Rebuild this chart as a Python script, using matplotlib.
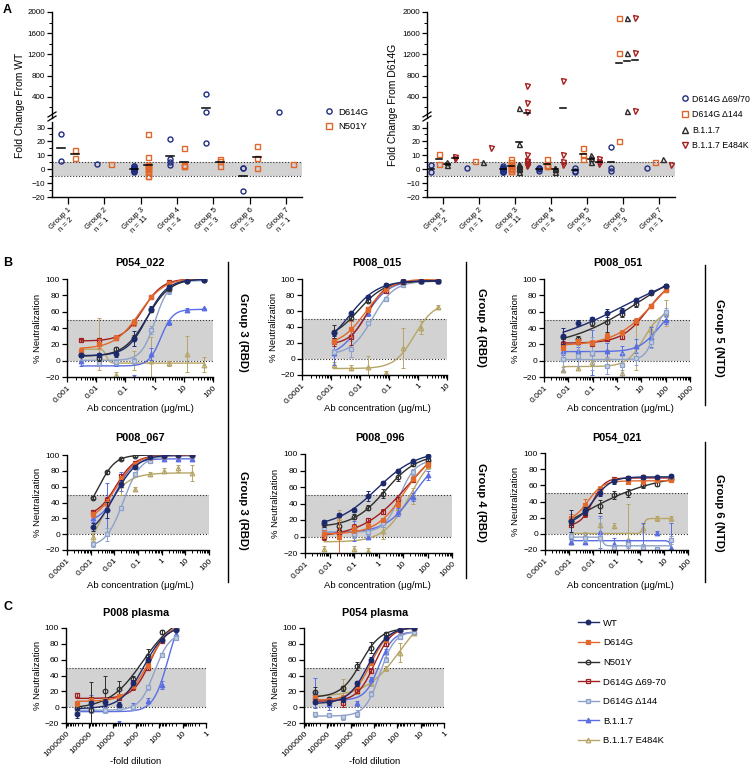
import numpy as np
import matplotlib
matplotlib.use('Agg')
import matplotlib.pyplot as plt
from matplotlib.lines import Line2D
from matplotlib.ticker import FixedLocator, LogLocator, NullFormatter

plt.rcParams['font.family'] = ['Liberation Sans', 'DejaVu Sans']

# ---------------- DATA ----------------
group_labels = ['Group 1\nn = 2', 'Group 2\nn = 1', 'Group 3\nn = 11', 'Group 4\nn = 4',
                'Group 5\nn = 3', 'Group 6\nn = 3', 'Group 7\nn = 1']

# Panel A left: fold change from WT
A1_D614G = [[25, 6], [4], [2, 1, 0, -1, -2, 1, 0, 2, -1, 0, 1], [22, 7, 5, 3],
            [450, 110, 19], [1, 1, -16], [110]]
A1_N501Y = [[14, 8], [4], [25, 9, 3, 2, 0, -1, -2, -5, -5, 1, 3], [15, 3, 2, 2],
            [6, 7, 2], [17, 8, 1], [4]]
# Panel A right: fold change from D614G
A2_D69 = [[3, -2], [1], [2, 1, 0, -1, -2, 0, 1, -1, 0, 1, -2], [1, -1, 0, 1],
          [1, -1, -2], [16, 1, -1], [1]]
A2_D144 = [[11, 4], [6], [7, 5, 3, 1, -1, 2, 0, 1, 3, -1, 4], [7, 3, 2, 2],
           [15, 10, 7], [1880, 1220, 20], [5]]
A2_B117 = [[5, 3], [5], [180, 18, 4, 3, 2, 1, 0, -2, 1, 2, 3], [1, 0, -2, 1],
           [10, 8, 5], [1880, 1220, 130], [7]]
A2_E484K = [[9, 7], [15], [600, 280, 120, 10, 6, 4, 3, 2, 5, 4, 3], [700, 10, 5, 3],
            [7, 5, 4], [1890, 1230, 140], [3]]

variants = ['WT', 'D614G', 'N501Y', 'D614G Δ69-70', 'D614G Δ144', 'B.1.1.7', 'B.1.1.7 E484K']

# Panel B / C : % neutralization, series in the order of `variants`
conc_P054_022 = [0.00305, 0.0122, 0.0488, 0.195, 0.781, 3.125, 12.5, 50]
P054_022 = [[7, 7, 8, 27, 63, 90, 98, 99],
            [12, 21, 28, 47, 78, 95, 99, 100],
            [7, 3, 14, 28, 62, 88, 98, 99],
            [25, 25, 28, 47, 78, 96, 99, 100],
            [10, -3, -2, 0, 38, 85, 97, 99],
            [-1, -3, -3, -20, 8, 47, 62, 64],
            [8, 20, -17, 0, -1, -3, 8, -5]]
P054_022_err = [[3, 3, 3, 9, 4, 2, 1, 1], [3, 5, 3, 4, 3, 1, 1, 1], [3, 3, 3, 3, 3, 2, 1, 1],
                [2, 3, 3, 3, 3, 1, 1, 1], [3, 3, 3, 3, 5, 3, 1, 1], [5, 3, 3, 3, 7, 3, 2, 1],
                [8, 32, 3, 12, 30, 3, 22, 9]]

conc_P008_015 = [0.00122, 0.00488, 0.0195, 0.078, 0.3125, 1.25, 5]
P008_015 = [[32, 57, 78, 93, 97, 97, 97],
            [22, 38, 62, 88, 97, 99, 99],
            [34, 51, 73, 90, 96, 97, 97],
            [21, 27, 62, 85, 96, 98, 98],
            [9, 13, 45, 75, 92, 97, 97],
            [8, 30, 57, 87, 96, 97, 97],
            [-7, -11, -10, -18, 14, 39, 65]]
P008_015_err = [[3, 2, 2, 2, 1, 1, 1], [3, 10, 3, 2, 1, 1, 1], [8, 3, 2, 2, 1, 1, 1],
                [5, 10, 3, 2, 1, 1, 1], [3, 10, 3, 3, 2, 1, 1], [15, 18, 3, 2, 1, 1, 1],
                [3, 3, 14, 3, 25, 8, 2]]

conc_P008_051 = [0.0061, 0.0244, 0.0977, 0.39, 1.5625, 6.25, 25, 100]
P008_051 = [[30, 46, 51, 58, 61, 74, 84, 92],
            [16, 24, 22, 30, 34, 48, 67, 87],
            [29, 27, 46, 47, 57, 69, 83, 92],
            [21, 23, 21, 27, 29, 47, 67, 86],
            [2, 6, 9, -6, -5, 3, 23, 59],
            [12, 12, 10, 12, 10, 18, 29, 50],
            [-11, -9, -2, 3, -15, 18, 38, 58]]
P008_051_err = [[10, 4, 3, 5, 3, 2, 2, 2], [3, 3, 3, 4, 3, 4, 3, 2], [3, 3, 3, 12, 3, 3, 2, 2],
                [3, 3, 3, 3, 3, 3, 3, 2], [15, 13, 20, 10, 15, 8, 8, 5], [5, 5, 28, 10, 8, 8, 12, 5],
                [3, 3, 3, 10, 3, 30, 5, 16]]

conc_P008_067 = [0.00122, 0.00488, 0.0195, 0.078, 0.3125, 1.25, 5, 20]
P008_067 = [[9, 31, 64, 85, 97, 99, 100, 100],
            [25, 40, 70, 89, 97, 99, 100, 100],
            [46, 78, 95, 99, 100, 100, 100, 100],
            [28, 43, 73, 90, 97, 99, 100, 100],
            [-13, 0, 33, 76, 93, 98, 99, 99],
            [20, 33, 66, 88, 94, 95, 95, 95],
            [-4, 38, 62, 57, 76, 80, 83, 77]]
P008_067_err = [[5, 10, 4, 3, 1, 1, 1, 1], [3, 5, 4, 2, 1, 1, 1, 1], [2, 2, 1, 1, 1, 1, 1, 1],
                [3, 4, 3, 2, 1, 1, 1, 1], [3, 8, 3, 3, 2, 1, 1, 1], [5, 32, 12, 3, 2, 1, 1, 1],
                [5, 5, 12, 3, 3, 3, 5, 10]]

conc_P008_096 = [0.0061, 0.0244, 0.0977, 0.39, 1.5625, 6.25, 25, 100]
P008_096 = [[17, 26, 32, 49, 65, 80, 91, 97],
            [3, 0, 9, 13, 20, 40, 70, 87],
            [15, 13, 24, 35, 52, 72, 88, 93],
            [-1, 6, 12, 20, 30, 45, 69, 89],
            [9, 5, 3, 5, 16, 44, 78, 91],
            [9, 5, 7, 0, 17, 30, 48, 74],
            [-15, 22, -15, -17, 7, 35, 49, 85]]
P008_096_err = [[3, 2, 2, 6, 2, 2, 2, 2], [5, 25, 5, 3, 3, 4, 3, 3], [3, 5, 3, 3, 5, 5, 2, 2],
                [3, 3, 3, 3, 3, 3, 3, 3], [5, 5, 5, 3, 5, 5, 4, 3], [5, 5, 12, 3, 5, 5, 5, 5],
                [3, 10, 3, 3, 10, 5, 10, 3]]

conc_P054_021 = [0.00122, 0.00488, 0.0195, 0.078, 0.3125, 1.25, 5, 20]
P054_021 = [[16, 28, 51, 65, 69, 70, 70, 72],
            [20, 36, 56, 66, 64, 65, 66, 66],
            [16, 30, 34, 48, 50, 60, 62, 68],
            [11, 24, 55, 68, 69, 70, 69, 68],
            [-3, -5, -5, -17, -12, -18, -19, -8],
            [-10, -10, 2, -13, -12, -17, 1, -17],
            [-10, -1, 11, 10, -8, 7, 19, 19]]
P054_021_err = [[14, 5, 4, 3, 2, 2, 2, 2], [5, 7, 3, 2, 2, 3, 2, 2], [5, 5, 8, 5, 5, 3, 3, 3],
                [3, 3, 3, 2, 2, 2, 2, 2], [5, 5, 25, 3, 5, 5, 3, 5], [3, 3, 20, 8, 3, 30, 3, 30],
                [3, 3, 3, 3, 45, 5, 3, 3]]

dil_plasma = [327680, 81920, 20480, 5120, 1280, 320, 80, 20]
P008_plasma = [[-8, 5, 7, 3, 31, 60, 85, 98],
               [5, 9, 9, 14, 27, 53, 85, 99],
               [-1, -3, 20, 23, 36, 65, 95, 99],
               [15, 10, 9, 12, 25, 50, 84, 99],
               [-5, -4, -4, -1, 0, 25, 66, 88],
               [-4, -4, -3, -20, 2, 8, 28, 93],
               None]
P008_plasma_err = [[6, 3, 3, 3, 3, 3, 2, 1], [3, 3, 3, 3, 3, 3, 2, 1], [3, 35, 19, 10, 3, 8, 2, 1],
                   [3, 3, 3, 3, 3, 3, 2, 1], [3, 3, 3, 3, 3, 3, 3, 3], [3, 20, 3, 3, 3, 3, 5, 3],
                   None]
P054_plasma = [[7, 6, 10, 30, 60, 87, 98, 100],
               [12, 8, 12, 27, 56, 85, 98, 100],
               [19, 10, 24, 52, 75, 93, 98, 100],
               [10, 9, 5, 21, 46, 80, 98, 100],
               [-9, -10, -13, -8, 17, 60, 89, 95],
               [18, 4, 10, 5, 35, 70, 90, 96],
               [18, 7, 25, 20, 30, 49, 69, 94]]
P054_plasma_err = [[3, 3, 3, 3, 3, 2, 1, 1], [3, 3, 3, 3, 3, 2, 1, 1], [7, 3, 3, 5, 7, 2, 1, 1],
                   [3, 3, 5, 3, 3, 3, 1, 1], [3, 3, 3, 5, 3, 3, 3, 2], [19, 8, 3, 3, 3, 3, 3, 2],
                   [3, 3, 10, 3, 3, 3, 12, 3]]

# ---------------- STYLE ----------------
var_color = ['#1c2a6c', '#e2692c', '#2e2e2e', '#a21f1f', '#8ea1c9', '#5a6ee3', '#b7a566']
var_marker = ['o', 's', 'o', 's', 's', '^', '^']
var_face = ['#1c2a6c', '#e2692c', 'none', 'none', '#c3cde4', '#5a6ee3', 'none']

W, H = 756, 766
fig = plt.figure(figsize=(W / 100, H / 100), dpi=100)


def px_axes(l, t, r, b):
    return fig.add_axes([l / W, 1 - b / H, (r - l) / W, (b - t) / H])


def ftext(x, y, s, **kw):
    fig.text(x / W, 1 - y / H, s, **kw)


def style_axes(ax):
    for sp in ['top', 'right']:
        ax.spines[sp].set_visible(False)
    for sp in ['left', 'bottom']:
        ax.spines[sp].set_linewidth(1.0)
    ax.tick_params(which='major', direction='out', length=3.5, width=0.9, labelsize=6, pad=1.5)
    ax.tick_params(which='minor', direction='out', length=2, width=0.7)


# ---------------- PANEL A ----------------
def panel_A(l, r, series, colors, markers, offsets, dash_w, ylabel, ylabel_x):
    up = px_axes(l, 12, r, 118)
    lo = px_axes(l, 122, r, 197)
    xl = (0.56, 7.44)
    for ax in (up, lo):
        style_axes(ax)
        ax.set_xlim(*xl)
        ax.patch.set_alpha(0)
    up.spines['bottom'].set_visible(False)
    up.set_ylim(0, 2000)
    up.yaxis.set_major_locator(FixedLocator([400, 800, 1200, 1600, 2000]))
    up.yaxis.set_minor_locator(FixedLocator([200, 600, 1000, 1400, 1800]))
    up.set_xticks([])
    lo.set_ylim(-20, 34)
    lo.yaxis.set_major_locator(FixedLocator([-20, -10, 0, 10, 20, 30]))
    lo.yaxis.set_minor_locator(FixedLocator([-15, -5, 5, 15, 25]))
    lo.set_xticks(range(1, 8))
    lo.set_xticklabels(group_labels, rotation=45, ha='right', va='top',
                       rotation_mode='anchor', fontsize=5.6, multialignment='center')
    lo.tick_params(axis='x', length=5, pad=2)
    up.tick_params(labelsize=5.8)
    lo.tick_params(axis='y', labelsize=5.8)
    lo.axhspan(-5, 5, color='#d2d2d2', lw=0, zorder=0)
    lo.axhline(5, color='#333333', lw=0.8, ls=':', zorder=1)
    lo.axhline(-5, color='#333333', lw=0.8, ls=':', zorder=1)
    for si, vals in enumerate(series):
        for g, pts in enumerate(vals):
            xc = g + 1 + offsets[si]
            pts = np.array(pts, dtype=float)
            hi = pts[pts > 34]
            low = pts[pts <= 34]
            kw = dict(ls='none', marker=markers[si], ms=3.6, mfc='none',
                      mec=colors[si], mew=1.0, zorder=3)
            if len(low):
                lo.plot(np.full(len(low), xc), low, **kw)
            if len(hi):
                up.plot(np.full(len(hi), xc), hi, **kw)
            if len(pts) > 1:
                m = pts.mean()
                tgt = up if m > 34 else lo
                tgt.plot([xc - dash_w / 2, xc + dash_w / 2], [m, m], color='k', lw=1.1, zorder=4)
    # break marks
    for dy in (0, 4):
        fig.add_artist(Line2D([(l - 4) / W, (l + 4) / W],
                              [1 - (121 - dy) / H, 1 - (116 - dy) / H],
                              color='k', lw=0.9))
    ftext(ylabel_x, 105, ylabel, rotation=90, ha='center', va='center', fontsize=7.5)
    return up, lo


panel_A(52, 302, [A1_D614G, A1_N501Y], ['#1f2d80', '#e0662a'], ['o', 's'],
        [-0.19, 0.19], 0.22, 'Fold Change From WT', 20)
panel_A(427, 675, [A2_D69, A2_D144, A2_B117, A2_E484K],
        ['#1f2d80', '#e0662a', '#2b2b2b', '#a51f1f'], ['o', 's', '^', 'v'],
        [-0.33, -0.11, 0.11, 0.33], 0.16, 'Fold Change From D614G', 393)

legA1 = [Line2D([], [], ls='none', marker='o', ms=3.8, mfc='none', mec='#1f2d80', mew=1.0),
         Line2D([], [], ls='none', marker='s', ms=3.8, mfc='none', mec='#e0662a', mew=1.0)]
fig.legend(legA1, ['D614G', 'N501Y'], loc='upper left', bbox_to_anchor=(320 / W, 1 - 104 / H),
           frameon=False, fontsize=6.8, handlelength=1.0, handletextpad=0.5, labelspacing=0.6,
           borderaxespad=0)
legA2 = [Line2D([], [], ls='none', marker=m, ms=3.8, mfc='none', mec=c, mew=1.0)
         for m, c in zip(['o', 's', '^', 'v'], ['#1f2d80', '#e0662a', '#2b2b2b', '#a51f1f'])]
fig.legend(legA2, ['D614G Δ69/70', 'D614G Δ144', 'B.1.1.7', 'B.1.1.7 E484K'], loc='upper left',
           bbox_to_anchor=(678 / W, 1 - 91 / H), frameon=False, fontsize=6.3, handlelength=0.8,
           handletextpad=0.4, labelspacing=0.75, borderaxespad=0)


# ---------------- 4PL fit ----------------
def fit4pl(lx, y):
    cs = np.linspace(lx.min() - 1.0, lx.max() + 1.0, 161)[:, None, None]
    hs = np.geomspace(0.25, 8, 48)[None, :, None]
    s = 1.0 / (1.0 + 10.0 ** ((cs - lx[None, None, :]) * hs))
    u = 1 - s
    v = s
    suu = (u * u).sum(-1); suv = (u * v).sum(-1); svv = (v * v).sum(-1)
    suy = (u * y).sum(-1); svy = (v * y).sum(-1)
    det = suu * svv - suv ** 2
    ok = det > 1e-6
    dsafe = np.where(ok, det, 1.0)
    b = (svv * suy - suv * svy) / dsafe
    t = (suu * svy - suv * suy) / dsafe
    pred = b[..., None] * u + t[..., None] * v
    sse = ((pred - y) ** 2).sum(-1)
    sse = np.where(ok & (b > -40) & (b < 130) & (t > -40) & (t < 130), sse, np.inf)
    i, j = np.unravel_index(np.argmin(sse), sse.shape)
    return b[i, j], t[i, j], cs[i, 0, 0], hs[0, j, 0]


def model(lx, p):
    b, t, c, h = p
    return b + (t - b) / (1.0 + 10.0 ** ((c - lx) * h))


def curve_panel(box, conc, data, errs, xlim, title, title_xy, inverted=False):
    ax = px_axes(*box)
    style_axes(ax)
    ax.set_xscale('log')
    ax.set_xlim(*xlim)
    ax.set_ylim(-20, 100)
    ax.set_yticks([-20, 0, 20, 40, 60, 80, 100])
    lo_e, hi_e = sorted([np.log10(xlim[0]), np.log10(xlim[1])])
    dec = [10.0 ** k for k in range(int(round(lo_e)), int(round(hi_e)) + 1)]
    ax.xaxis.set_major_locator(FixedLocator(dec))
    ax.xaxis.set_minor_locator(LogLocator(base=10, subs=np.arange(2, 10), numticks=20))
    ax.xaxis.set_minor_formatter(NullFormatter())
    labs = []
    for d in dec:
        if d >= 1:
            labs.append('%d' % round(d))
        else:
            labs.append(('%.10f' % d).rstrip('0'))
    ax.set_xticklabels(labs, rotation=45, ha='right', va='top', rotation_mode='anchor', fontsize=6)
    ax.axhspan(0, 50, color='#d2d2d2', lw=0, zorder=0)
    ax.axhline(0, color='#333333', lw=0.8, ls=':', zorder=1)
    ax.axhline(50, color='#333333', lw=0.8, ls=':', zorder=1)
    x = np.array(conc, dtype=float)
    lx = np.log10(x)
    for i in range(len(variants) - 1, -1, -1):
        if data[i] is None:
            continue
        y = np.array(data[i], dtype=float)
        e = np.array(errs[i], dtype=float)
        col = var_color[i]
        p = fit4pl(lx, y)
        xx = np.linspace(lx.min(), lx.max(), 300)
        z = 2 + (len(variants) - i) * 0.1
        ax.plot(10 ** xx, model(xx, p), color=col, lw=1.0, zorder=z)
        ax.errorbar(x, y, yerr=e, fmt='none', ecolor=col, elinewidth=0.7, capsize=1.5,
                    capthick=0.7, zorder=z)
        ax.plot(x, y, ls='none', marker=var_marker[i], ms=3.3, mfc=var_face[i], mec=col,
                mew=0.9, zorder=z + 0.05)
    ftext(title_xy[0], title_xy[1], title, ha='center', va='center', fontsize=7.8,
          fontweight='bold')
    ylx = box[0] - 29
    ftext(ylx, (box[1] + box[3]) / 2, '% Neutralization', rotation=90, ha='center',
          va='center', fontsize=6.8)
    return ax


curve_panel((67, 279, 213, 377), conc_P054_022, P054_022, P054_022_err, (0.001, 100),
            'P054_022', (140, 263))
curve_panel((302, 279, 447, 375), conc_P008_015, P008_015, P008_015_err, (0.0001, 10),
            'P008_015', (377, 263))
curve_panel((544, 279, 690, 377), conc_P008_051, P008_051, P008_051_err, (0.001, 1000),
            'P008_051', (618, 263))
curve_panel((67, 455, 209, 550), conc_P008_067, P008_067, P008_067_err, (0.0001, 100),
            'P008_067', (140, 438))
curve_panel((305, 454, 452, 553), conc_P008_096, P008_096, P008_096_err, (0.001, 1000),
            'P008_096', (380, 438))
curve_panel((545, 453, 688, 550), conc_P054_021, P054_021, P054_021_err, (0.0001, 100),
            'P054_021', (617, 438))
curve_panel((66, 628, 206, 723), dil_plasma, P008_plasma, P008_plasma_err, (1e6, 1),
            'P008 plasma', (136, 613), inverted=True)
curve_panel((304, 628, 444, 723), dil_plasma, P054_plasma, P054_plasma_err, (1e6, 1),
            'P054 plasma', (375, 613), inverted=True)

# x labels
for (x, y) in [(140, 409), (377, 409), (620, 409), (140, 585), (377, 585), (620, 585)]:
    ftext(x, y, 'Ab concentration (μg/mL)', ha='center', va='center', fontsize=6.8)
for (x, y) in [(136, 761), (375, 761)]:
    ftext(x, y, '-fold dilution', ha='center', va='center', fontsize=6.8)

# group bars
fig.add_artist(Line2D([228 / W, 228 / W], [1 - 262 / H, 1 - 582 / H], color='k', lw=1.0))
fig.add_artist(Line2D([466 / W, 466 / W], [1 - 262 / H, 1 - 578 / H], color='k', lw=1.0))
fig.add_artist(Line2D([705 / W, 705 / W], [1 - 265 / H, 1 - 405 / H], color='k', lw=1.0))
fig.add_artist(Line2D([705 / W, 705 / W], [1 - 442 / H, 1 - 582 / H], color='k', lw=1.0))
for (x, y, s) in [(243, 332, 'Group 3 (RBD)'), (243, 510, 'Group 3 (RBD)'),
                  (481, 328, 'Group 4 (RBD)'), (481, 502, 'Group 4 (RBD)'),
                  (719, 338, 'Group 5 (NTD)'), (719, 513, 'Group 6 (NTD)')]:
    ftext(x, y, s, rotation=-90, ha='center', va='center', fontsize=8.2, fontweight='bold')

# panel letters
ftext(3, 10, 'A', fontsize=9, fontweight='bold', ha='left', va='center')
ftext(3, 263, 'B', fontsize=9, fontweight='bold', ha='left', va='center')
ftext(3, 607, 'C', fontsize=9, fontweight='bold', ha='left', va='center')

# legend C
legC = [Line2D([], [], color=var_color[i], lw=1.0, marker=var_marker[i], ms=3.3,
               mfc=var_face[i], mec=var_color[i], mew=0.9) for i in range(len(variants))]
fig.legend(legC, variants, loc='upper left', bbox_to_anchor=(574 / W, 1 - 615 / H),
           frameon=False, fontsize=6.8, handlelength=2.2, handletextpad=0.45,
           labelspacing=1.12, borderaxespad=0)

fig.savefig('out.png', dpi=100)
